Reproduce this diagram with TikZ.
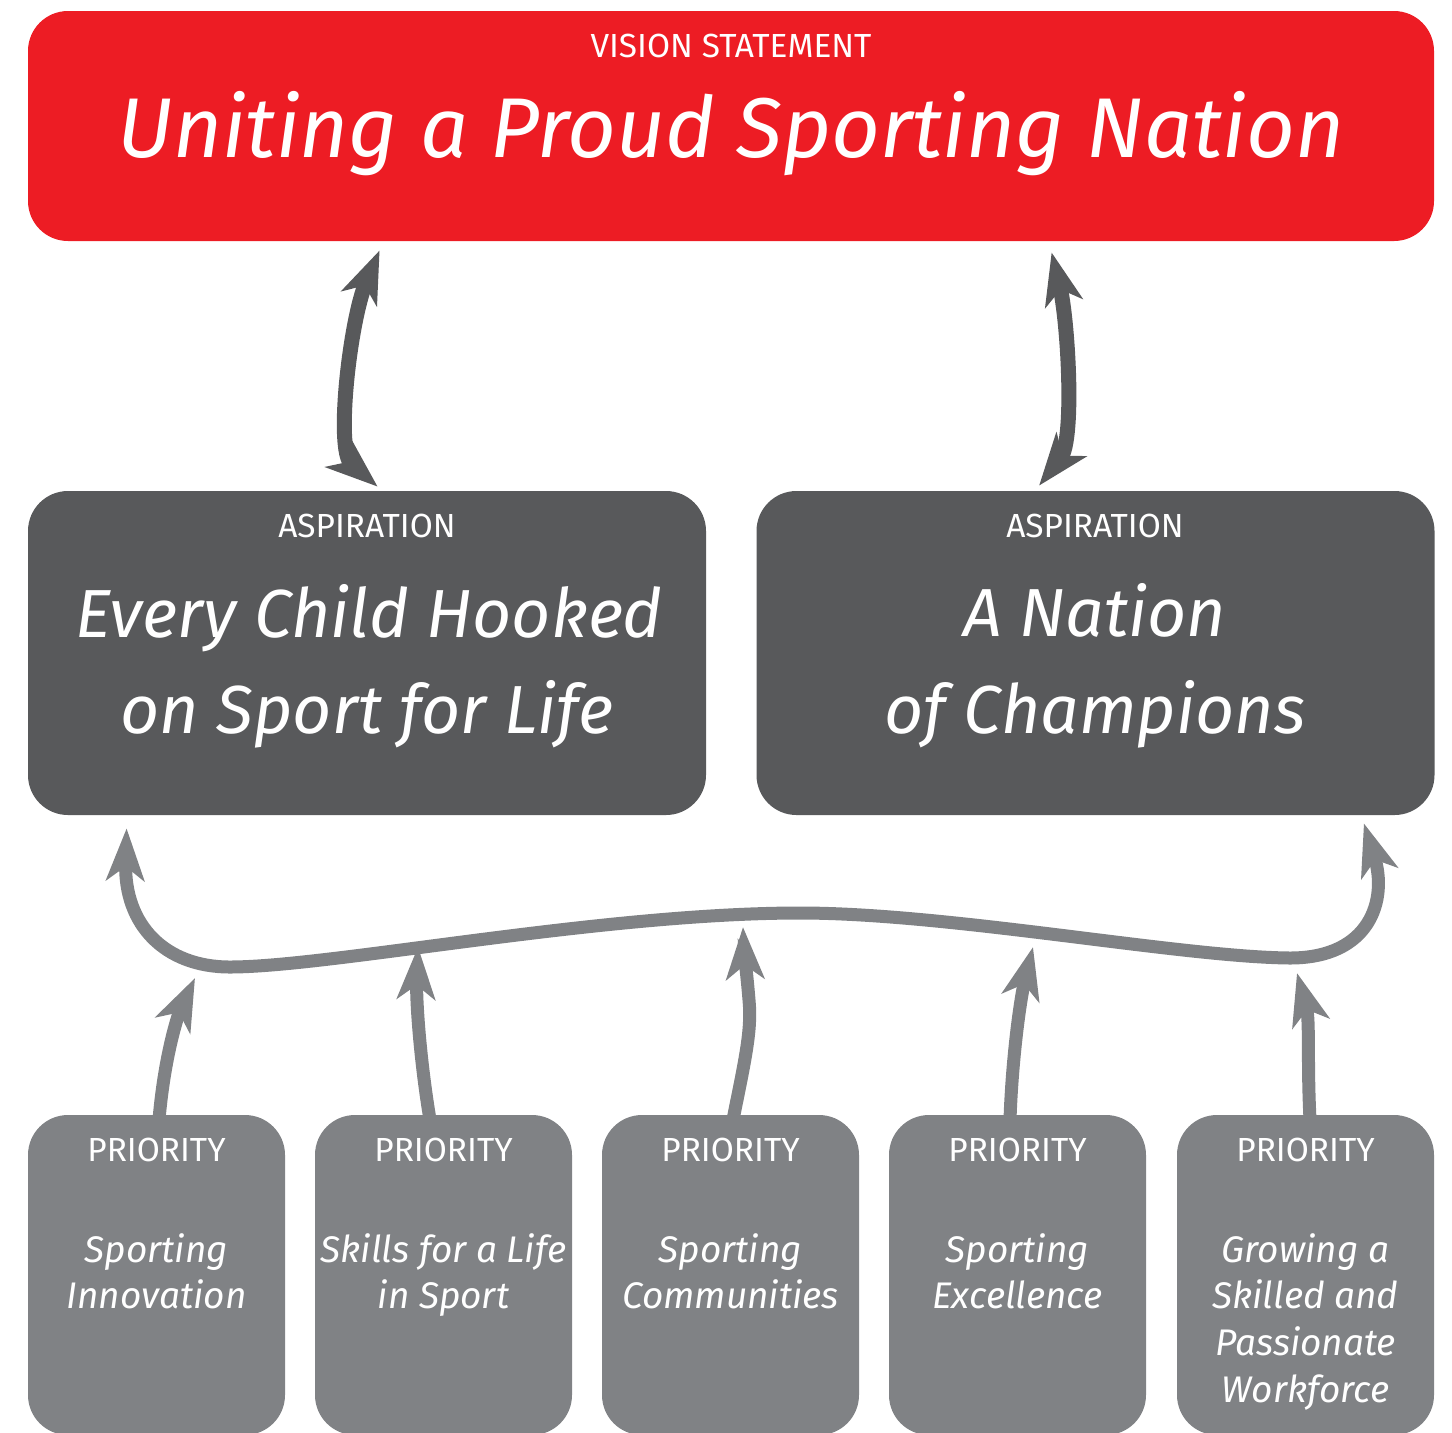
\documentclass[tikz,border=0pt]{standalone}
\usepackage{fontspec}
\setmainfont{Fira Sans}
\newfontfamily\scr{Fira Sans}
\usetikzlibrary{arrows.meta,calc}
\definecolor{visred}{HTML}{ED1C24}
\definecolor{aspgray}{HTML}{58595B}
\definecolor{prigray}{HTML}{808285}
\begin{document}
\begin{tikzpicture}[x=0.5pt,y=-0.5pt,
  box/.style={rounded corners=20pt, inner sep=0pt, draw=none},
  vbox/.style={box, fill=visred, minimum width=703pt, minimum height=115pt},
  abox/.style={box, fill=aspgray, minimum width=339pt, minimum height=162pt},
  pbox/.style={box, fill=prigray, minimum width=128.5pt, minimum height=160pt},
  lab/.style={text=white, font=\fontsize{16.7}{20}\selectfont, inner sep=0pt},
  scrtitle/.style={text=white, font=\scr\itshape\fontsize{42.4}{50}\selectfont, inner sep=0pt, anchor=base},
  scrasp/.style={text=white, font=\scr\itshape\fontsize{34}{40}\selectfont, inner sep=0pt, anchor=base},
  scrpri/.style={text=white, font=\scr\itshape\fontsize{18.5}{22}\selectfont, inner sep=0pt, anchor=base},
  darrow/.style={draw=aspgray, line width=7.5pt,
    arrows={Stealth[length=26pt,width=19pt,inset=7pt]-Stealth[length=26pt,width=19pt,inset=7pt]}},
  bigcurve/.style={draw=prigray, line width=6.5pt,
    arrows={Stealth[length=26pt,width=19pt,inset=7pt]-Stealth[length=26pt,width=19pt,inset=7pt]}},
  garrow/.style={draw=prigray, line width=6.5pt,
    arrows={-Stealth[length=26pt,width=19pt,inset=7pt]}}]
\useasboundingbox (0,0) rectangle (1452,1432);

% boxes
\node[vbox] (vision) at (731,126) {};
\node[abox] (asp1) at (367,653) {};
\node[abox] (asp2) at (1095.5,653) {};
\node[pbox] (p1) at (156.5,1275) {};
\node[pbox] (p2) at (443.5,1275) {};
\node[pbox] (p3) at (730.5,1275) {};
\node[pbox] (p4) at (1017.5,1275) {};
\node[pbox] (p5) at (1305.5,1275) {};

% texts
\node[lab] (vlab) at (731,46) {VISION STATEMENT};
\node[scrtitle] (vtext) at (731,157) {Uniting a Proud Sporting Nation};
\node[lab] (a1lab) at (367,526) {ASPIRATION};
\node[scrasp] (a1l1) at (369,637) {Every Child Hooked};
\node[scrasp] (a1l2) at (367,733) {on Sport for Life};
\node[lab] (a2lab) at (1095,526) {ASPIRATION};
\node[scrasp] (a2l1) at (1095,636) {A Nation};
\node[scrasp] (a2l2) at (1095,733) {of Champions};

\node[lab] (p1lab) at (156.5,1150) {PRIORITY};
\node[lab] (p2lab) at (443.5,1150) {PRIORITY};
\node[lab] (p3lab) at (730.5,1150) {PRIORITY};
\node[lab] (p4lab) at (1017.5,1150) {PRIORITY};
\node[lab] (p5lab) at (1305.5,1150) {PRIORITY};

\node[scrpri] (p1a) at (156.5,1262) {Sporting};
\node[scrpri] (p1b) at (156.5,1308) {Innovation};
\node[scrpri] (p2a) at (443.5,1262) {Skills for a Life};
\node[scrpri] (p2b) at (443.5,1308) {in Sport};
\node[scrpri] (p3a) at (730.5,1262) {Sporting};
\node[scrpri] (p3b) at (730.5,1308) {Communities};
\node[scrpri] (p4a) at (1017.5,1262) {Sporting};
\node[scrpri] (p4b) at (1017.5,1308) {Excellence};
\node[scrpri] (p5a) at (1305.5,1262) {Growing a};
\node[scrpri] (p5b) at (1305.5,1308) {Skilled and};
\node[scrpri] (p5c) at (1305.5,1355) {Passionate};
\node[scrpri] (p5d) at (1305.5,1402) {Workforce};

% double arrows between vision and aspirations
\draw[darrow] ($(asp1.north west)+(350,-4)$) .. controls (335,450) and (350,320) .. ($(vision.south west)+(352,9)$);
\draw[darrow] ($(asp2.north west)+(283,-5)$) .. controls (1075,440) and (1068,320) .. ($(vision.south west)+(1024,11)$);

% big curve feeding both aspirations
\coordinate (c1) at (195,978);
\coordinate (c2) at (418,947);
\coordinate (c3) at (743,927);
\coordinate (c4) at (1033,947);
\coordinate (c5) at (1297,973);
\draw[bigcurve] ($(asp1.south west)+(99,13)$) .. controls (124,925) and (165,967) .. (230,967)
  .. controls (330,967) and (600,913) .. (800,913)
  .. controls (950,913) and (1180,957) .. (1290,958)
  .. controls (1370,958) and (1388,900) .. ($(asp2.south east)+(-71,8)$);

% priority arrows
\draw[garrow] ($(p1.north)+(2.5,5)$) .. controls (165,1050) and (180,1010) .. (c1);
\draw[garrow] ($(p2.north)+(-13.5,5)$) .. controls (420,1060) and (416,1000) .. (c2);
\draw[garrow] ($(p3.north)+(2.5,5)$) .. controls (745,1060) and (752,1030) .. (749,1000) .. controls (747,975) and (744,950) .. (c3);
\draw[garrow] ($(p4.north)+(-7.5,5)$) .. controls (1012,1060) and (1020,1000) .. (c4);
\draw[garrow] ($(p5.north)+(4.5,5)$) .. controls (1307,1060) and (1310,1020) .. (c5);
\end{tikzpicture}
\end{document}
